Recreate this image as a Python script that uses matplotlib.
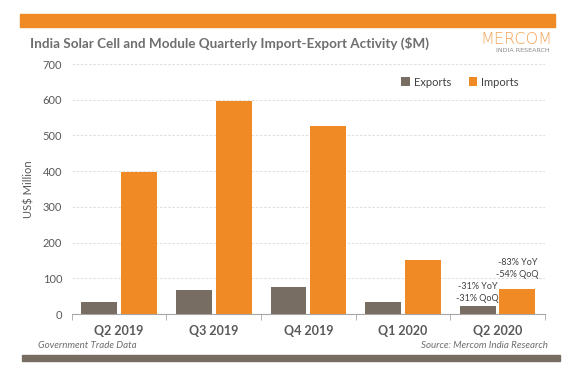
import matplotlib
matplotlib.use("Agg")
import matplotlib.pyplot as plt
import numpy as np
from matplotlib.patches import Rectangle

plt.rcParams['font.family'] = ['Lato', 'DejaVu Sans']

quarters = ["Q2 2019", "Q3 2019", "Q4 2019", "Q1 2020", "Q2 2020"]
exports = [33, 67, 75, 33, 22]
imports = [398, 597, 527, 152, 70]
export_note = "-31% YoY\n-31% QoQ"
import_note = "-83% YoY\n-54% QoQ"

c_exp = "#776D62"
c_imp = "#F08A24"
txt = "#595959"

fig = plt.figure(figsize=(5.84, 3.67), dpi=100)
ax = fig.add_axes([0.123, 0.1444, 0.81, 0.6812])

x = np.arange(len(quarters))
w = 0.38
ax.bar(x - 0.21, exports, w, color=c_exp, label="Exports", zorder=3)
ax.bar(x + 0.21, imports, w, color=c_imp, label="Imports", zorder=3)

ax.set_xlim(-0.5, len(quarters) - 0.5)
ax.set_ylim(0, 700)
ax.set_yticks(range(0, 701, 100))
ax.yaxis.grid(True, color="#D9D9D9", linestyle=(0, (3, 2)), linewidth=0.6, zorder=0)
for s in ["top", "right", "left"]:
    ax.spines[s].set_visible(False)
ax.spines["bottom"].set_color("#A6A6A6")
ax.tick_params(axis="y", length=0, labelsize=8, labelcolor=txt, pad=7)
ax.set_xticks(x)
ax.set_xticklabels(quarters, fontsize=9, fontweight="bold", color=txt)
ax.tick_params(axis="x", length=0, pad=8)
ax.set_xticks(np.arange(-0.5, len(quarters), 1), minor=True)
ax.tick_params(axis="x", which="minor", length=4, color="#A6A6A6")
ax.set_ylabel("US$ Million", fontsize=8, color=txt, labelpad=6)

ax.text(x[-1] - 0.21, exports[-1] + 8, export_note, ha="center", va="bottom",
        fontsize=6.5, color="#404040", linespacing=1.5)
ax.text(x[-1] + 0.21, imports[-1] + 28, import_note, ha="center", va="bottom",
        fontsize=6.5, color="#404040", linespacing=1.5)

leg = ax.legend(loc="upper right", bbox_to_anchor=(0.965, 0.99), ncol=2, frameon=False,
                fontsize=8, handlelength=0.8, handleheight=0.8, handletextpad=0.3,
                columnspacing=1.6)
for t in leg.get_texts():
    t.set_color("#404040")

# decorations
fig.patches.append(Rectangle((20/584, 1 - 27/367), 535/584, 13/367, transform=fig.transFigure,
                             color="#EF8A25", zorder=0))
fig.text(30/584, 1 - 43/367, "India Solar Cell and Module Quarterly Import-Export Activity ($M)",
         fontsize=9.7, fontweight="bold", color="#6E6E6E", va="center")
fig.text(516/584, 1 - 40/367, "MERCOM", fontsize=11.5, color="#F2A55A", ha="center", va="center",
         family=["DejaVu Sans"], fontweight="light")
fig.text(523/584, 1 - 50/367, "INDIA RESEARCH", fontsize=4.6, color="#8C8C8C", ha="center",
         va="center", family=["DejaVu Sans"])
fig.patches.append(Rectangle((22/584, 1 - 361/367), 538/584, 6/367, transform=fig.transFigure,
                             color="#776D62", zorder=0))
fig.text(38/584, 1 - 346/367, "Government Trade Data", fontsize=7, style="italic",
         color="#6E6E6E", va="center")
fig.text(548/584, 1 - 346/367, "Source: Mercom India Research", fontsize=7, style="italic",
         color="#6E6E6E", va="center", ha="right")

fig.savefig("out.png", dpi=100)
